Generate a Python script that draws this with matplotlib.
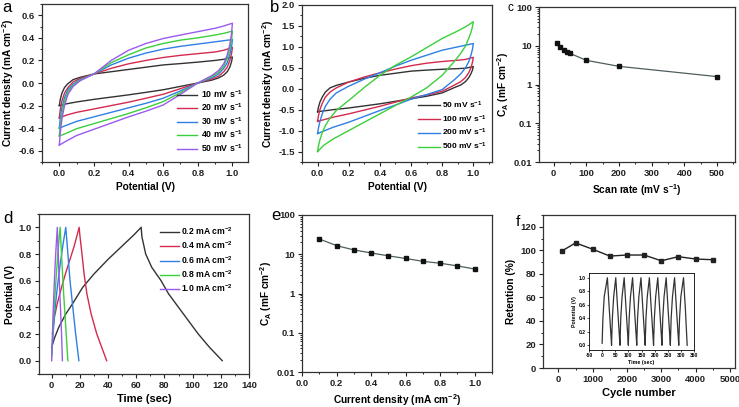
import matplotlib
matplotlib.use('Agg')
import matplotlib.pyplot as plt
import numpy as np
from matplotlib.ticker import AutoMinorLocator, FixedLocator, FixedFormatter

plt.rcParams['font.family'] = ['Liberation Sans', 'DejaVu Sans']
plt.rcParams['font.weight'] = 'bold'
plt.rcParams['axes.labelweight'] = 'bold'
plt.rcParams['axes.unicode_minus'] = False
plt.rcParams['mathtext.fontset'] = 'custom'
plt.rcParams['mathtext.rm'] = 'Liberation Sans:bold'
plt.rcParams['mathtext.bf'] = 'Liberation Sans:bold'
plt.rcParams['mathtext.it'] = 'Liberation Sans:bold'
plt.rcParams['mathtext.default'] = 'rm'

colors = ['#333333', '#d42a4f', '#2f7fe6', '#3ccf3c', '#9a5af0']

# --- a / b: CV loops, forward sweep (0 -> 1 V) then reverse sweep (1 -> 0 V)
cv_up_v = [0, 0.005, 0.015, 0.03, 0.05, 0.08, 0.12, 0.2, 0.3, 0.4, 0.5, 0.6, 0.7, 0.8, 0.9, 0.95, 1.0]
cv_dn_v = [1.0, 0.995, 0.985, 0.97, 0.95, 0.92, 0.88, 0.8, 0.7, 0.6, 0.5, 0.4, 0.3, 0.2, 0.1, 0.04, 0.0]

a_labels = ['10 mV s$^{-1}$', '20 mV s$^{-1}$', '30 mV s$^{-1}$', '40 mV s$^{-1}$', '50 mV s$^{-1}$']
a_up = [
    [-0.2, -0.15, -0.09, -0.04, -0.005, 0.03, 0.05, 0.08, 0.1, 0.12, 0.14, 0.16, 0.172, 0.185, 0.2, 0.21, 0.23],
    [-0.31, -0.24, -0.16, -0.09, -0.04, 0.01, 0.04, 0.08, 0.13, 0.17, 0.2, 0.226, 0.245, 0.26, 0.275, 0.29, 0.315],
    [-0.4, -0.32, -0.22, -0.13, -0.06, -0.01, 0.03, 0.08, 0.16, 0.22, 0.265, 0.30, 0.325, 0.345, 0.365, 0.375, 0.385],
    [-0.47, -0.38, -0.27, -0.16, -0.08, -0.02, 0.025, 0.08, 0.18, 0.25, 0.31, 0.35, 0.38, 0.40, 0.425, 0.44, 0.46],
    [-0.55, -0.45, -0.32, -0.2, -0.1, -0.03, 0.02, 0.08, 0.2, 0.29, 0.35, 0.394, 0.425, 0.455, 0.485, 0.505, 0.53],
]
a_dn = [
    [0.23, 0.19, 0.14, 0.1, 0.07, 0.045, 0.025, 0.0, -0.03, -0.06, -0.083, -0.105, -0.125, -0.145, -0.168, -0.185, -0.2],
    [0.315, 0.26, 0.2, 0.14, 0.1, 0.06, 0.035, 0.0, -0.05, -0.1, -0.135, -0.17, -0.2, -0.23, -0.26, -0.285, -0.31],
    [0.385, 0.32, 0.25, 0.18, 0.13, 0.08, 0.045, 0.0, -0.07, -0.135, -0.18, -0.22, -0.26, -0.3, -0.34, -0.375, -0.4],
    [0.46, 0.38, 0.3, 0.22, 0.15, 0.095, 0.055, 0.0, -0.085, -0.165, -0.22, -0.27, -0.315, -0.36, -0.405, -0.445, -0.47],
    [0.53, 0.44, 0.34, 0.25, 0.17, 0.11, 0.065, 0.0, -0.1, -0.195, -0.25, -0.3, -0.355, -0.41, -0.465, -0.515, -0.55],
]

b_labels = ['50 mV s$^{-1}$', '100 mV s$^{-1}$', '200 mV s$^{-1}$', '500 mV s$^{-1}$']
b_up = [
    [-0.55, -0.45, -0.32, -0.2, -0.08, 0.02, 0.08, 0.16, 0.25, 0.32, 0.37, 0.42, 0.445, 0.465, 0.48, 0.49, 0.53],
    [-0.78, -0.66, -0.5, -0.35, -0.2, -0.08, 0.02, 0.16, 0.28, 0.38, 0.47, 0.55, 0.61, 0.65, 0.68, 0.7, 0.75],
    [-1.07, -0.95, -0.78, -0.6, -0.42, -0.25, -0.1, 0.06, 0.23, 0.38, 0.54, 0.68, 0.8, 0.92, 1.0, 1.04, 1.08],
    [-1.5, -1.38, -1.22, -1.05, -0.88, -0.7, -0.52, -0.28, 0.03, 0.32, 0.56, 0.76, 0.98, 1.2, 1.38, 1.48, 1.6],
]
b_dn = [
    [0.53, 0.45, 0.36, 0.26, 0.17, 0.09, 0.03, -0.1, -0.18, -0.24, -0.3, -0.36, -0.41, -0.46, -0.5, -0.53, -0.55],
    [0.75, 0.64, 0.5, 0.38, 0.27, 0.17, 0.09, -0.06, -0.15, -0.22, -0.32, -0.42, -0.51, -0.6, -0.68, -0.74, -0.78],
    [1.08, 0.95, 0.8, 0.64, 0.5, 0.36, 0.22, -0.02, -0.14, -0.25, -0.39, -0.52, -0.66, -0.8, -0.92, -1.01, -1.07],
    [1.6, 1.48, 1.35, 1.2, 1.02, 0.85, 0.66, 0.32, 0.02, -0.2, -0.4, -0.6, -0.8, -1.0, -1.2, -1.35, -1.5],
]
b_colors = ['#333333', '#d42a4f', '#2f7fe6', '#3ccf3c']

# --- c: areal capacitance vs scan rate
scan_rate = [10, 20, 30, 40, 50, 100, 200, 500]
cap_scan = [11.7, 9.1, 7.7, 6.9, 6.35, 4.2, 2.94, 1.6]

# --- d: galvanostatic charge/discharge
d_labels = ['0.2 mA cm$^{-2}$', '0.4 mA cm$^{-2}$', '0.6 mA cm$^{-2}$', '0.8 mA cm$^{-2}$', '1.0 mA cm$^{-2}$']
d_t = [
    [0, 2, 5, 10, 15, 22, 30, 40, 50, 58, 63.5, 64, 66.7, 71, 77.6, 83, 90, 97, 104, 112, 121],
    [0.5, 2, 4, 7, 10, 13, 16, 19.5, 20, 21.5, 23, 25, 28, 32, 35.5, 39],
    [0, 2, 4, 6, 8, 10, 11.5, 13, 15, 17, 19.3],
    [0, 1.5, 3, 4.5, 6, 7.2, 8.5, 10, 11.5],
    [0, 1, 2, 3, 4, 5, 6, 7, 7.6],
]
d_v = [
    [0.1, 0.17, 0.25, 0.35, 0.43, 0.55, 0.65, 0.76, 0.86, 0.94, 1.0, 0.93, 0.8, 0.7, 0.6, 0.5, 0.4, 0.3, 0.2, 0.1, 0.0],
    [0.2, 0.33, 0.43, 0.55, 0.66, 0.76, 0.86, 1.0, 0.94, 0.8, 0.65, 0.5, 0.35, 0.2, 0.1, 0.0],
    [0.05, 0.35, 0.55, 0.72, 0.87, 1.0, 0.8, 0.6, 0.4, 0.2, 0.0],
    [0.03, 0.35, 0.6, 0.82, 1.0, 0.75, 0.5, 0.25, 0.0],
    [0.0, 0.35, 0.62, 0.83, 1.0, 0.7, 0.45, 0.2, 0.0],
]

# --- e: areal capacitance vs current density
cur_density = [0.1, 0.2, 0.3, 0.4, 0.5, 0.6, 0.7, 0.8, 0.9, 1.0]
cap_cur = [24.5, 16.6, 12.9, 10.8, 9.1, 7.8, 6.6, 5.9, 5.05, 4.2]

# --- f: cycling retention + inset GCD cycles
cycles = [100, 500, 1000, 1500, 2000, 2500, 3000, 3500, 4000, 4500]
retention = [99.4, 106.3, 100.9, 95.1, 96, 96, 91.1, 94.6, 92.6, 92]
inset_start = [0, 36, 68, 100, 132, 164, 196, 228, 260, 292]
inset_peak = [20, 52, 84, 116, 148, 180, 212, 244, 276, 310]
inset_end = [36, 68, 100, 132, 164, 196, 228, 260, 292, 324]
# shape of one charge step (seconds after start, volts) and discharge mid point
charge_dt = [0, 3, 8]
charge_v = [0.03, 0.4, 0.72]
discharge_dt = [7]
discharge_v = [0.55]

fig = plt.figure(figsize=(7.39, 4.07), dpi=100)


def add_box(l, t, r, b):
    return fig.add_axes([l / 739, 1 - b / 407, (r - l) / 739, (b - t) / 407])


def style(ax, fs=6.8, minor=True):
    for s in ax.spines.values():
        s.set_linewidth(0.9)
        s.set_color('#333333')
    ax.tick_params(direction='out', length=3, width=0.8, labelsize=fs, pad=2, colors='#222222')
    ax.tick_params(which='minor', direction='out', length=1.6, width=0.6)
    if minor:
        ax.xaxis.set_minor_locator(AutoMinorLocator(2))
        ax.yaxis.set_minor_locator(AutoMinorLocator(2))


def log_axis(ax):
    ax.set_yscale('log')
    ax.set_ylim(0.01, 100)
    ax.yaxis.set_major_locator(FixedLocator([0.01, 0.1, 1, 10, 100]))
    ax.yaxis.set_major_formatter(FixedFormatter(['0.01', '0.1', '1', '10', '100']))


lab = 7.3

# a
ax = add_box(42, 4, 248, 162)
for i in range(5):
    ax.plot(cv_up_v + cv_dn_v, a_up[i] + a_dn[i], color=colors[i], lw=1.0, label=a_labels[i])
ax.set_xlim(-0.1, 1.09)
ax.set_ylim(-0.7, 0.7)
ax.set_xticks(np.arange(0, 1.01, 0.2))
ax.set_yticks(np.arange(-0.6, 0.61, 0.2))
ax.set_xlabel('Potential (V)', fontsize=lab, labelpad=3)
ax.set_ylabel('Current density (mA cm$^{-2}$)', fontsize=lab, labelpad=2)
style(ax)
ax.legend(loc='lower right', bbox_to_anchor=(1.0, 0.02), frameon=False, fontsize=6.3,
          handlelength=2.3, labelspacing=0.2, handletextpad=0.4, borderaxespad=0.2)

# b
ax = add_box(302, 5, 492, 162)
for i in range(4):
    ax.plot(cv_up_v + cv_dn_v, b_up[i] + b_dn[i], color=b_colors[i], lw=1.0, label=b_labels[i])
ax.set_xlim(-0.1, 1.12)
ax.set_ylim(-1.75, 2.0)
ax.set_xticks(np.arange(0, 1.01, 0.2))
ax.set_yticks(np.arange(-1.5, 2.01, 0.5))
ax.set_xlabel('Potential (V)', fontsize=lab, labelpad=3)
ax.set_ylabel('Current density (mA cm$^{-2}$)', fontsize=lab, labelpad=2)
style(ax)
ax.legend(loc='lower right', bbox_to_anchor=(1.0, 0.03), frameon=False, fontsize=6.0,
          handlelength=2.6, labelspacing=0.3, handletextpad=0.3, borderaxespad=0.2)

# c
ax = add_box(539, 7, 735, 162)
ax.plot(scan_rate, cap_scan, color='#4d5e5e', lw=0.9, marker='s', ms=3.0, mfc='#111111', mec='#111111')
ax.set_xlim(-45, 555)
log_axis(ax)
ax.set_xticks(np.arange(0, 501, 100))
ax.set_xlabel('Scan rate (mV s$^{-1}$)', fontsize=lab, labelpad=3)
ax.set_ylabel('C$_A$ (mF cm$^{-2}$)', fontsize=lab, labelpad=2)
style(ax, minor=False)
ax.xaxis.set_minor_locator(AutoMinorLocator(2))

# d
ax = add_box(39, 214, 249, 374)
for i in range(5):
    ax.plot(d_t[i], d_v[i], color=colors[i], lw=1.0, label=d_labels[i])
ax.set_xlim(-9, 140)
ax.set_ylim(-0.1, 1.1)
ax.set_xticks(np.arange(0, 141, 20))
ax.set_yticks(np.arange(0, 1.01, 0.2))
ax.set_xlabel('Time (sec)', fontsize=8, labelpad=3)
ax.set_ylabel('Potential (V)', fontsize=lab, labelpad=3)
style(ax)
ax.legend(loc='upper right', bbox_to_anchor=(0.96, 0.98), frameon=False, fontsize=6.2,
          handlelength=2.3, labelspacing=0.32, handletextpad=0.2)

# e
ax = add_box(302, 215, 492, 372)
ax.plot(cur_density, cap_cur, color='#4d5e5e', lw=0.9, marker='s', ms=3.0, mfc='#111111', mec='#111111')
ax.set_xlim(0, 1.1)
log_axis(ax)
ax.set_xticks(np.arange(0, 1.01, 0.2))
ax.set_xlabel('Current density (mA cm$^{-2}$)', fontsize=lab, labelpad=3)
ax.set_ylabel('C$_A$ (mF cm$^{-2}$)', fontsize=lab, labelpad=2)
style(ax, minor=False)
ax.xaxis.set_minor_locator(AutoMinorLocator(2))

# f
ax = add_box(543, 215, 735, 368)
ax.plot(cycles, retention, color='#222222', lw=1.0, marker='s', ms=3.0)
ax.set_xlim(-450, 5150)
ax.set_ylim(0, 130)
ax.set_xticks(np.arange(0, 5001, 1000))
ax.set_yticks(np.arange(0, 121, 20))
ax.set_xlabel('Cycle number', fontsize=8, labelpad=3)
ax.set_ylabel('Retention (%)', fontsize=lab, labelpad=3)
style(ax)

# inset
ins = add_box(589, 273, 694, 350)
t_all, v_all = [], []
for s, p, e in zip(inset_start, inset_peak, inset_end):
    t_all += [s + d for d in charge_dt] + [p] + [p + d for d in discharge_dt] + [e]
    v_all += charge_v + [1.0] + discharge_v + [0.0]
ins.plot(t_all, v_all, color='#333333', lw=0.9)
ins.set_xlim(-50, 350)
ins.set_ylim(-0.07, 1.07)
ins.set_xticks(np.arange(-50, 351, 50))
ins.set_yticks(np.arange(0, 1.01, 0.2))
ins.set_xlabel('Time (sec)', fontsize=3.8, labelpad=1)
ins.set_ylabel('Potential (V)', fontsize=3.8, labelpad=1)
for s in ins.spines.values():
    s.set_linewidth(0.6)
ins.tick_params(direction='out', length=1.5, width=0.5, labelsize=3.6, pad=1)

# panel letters
for letter, x, y, fs in [('a', 7, 7, 12), ('b', 275, 7, 12), ('c', 510, 8, 8.5),
                         ('d', 8, 219, 12), ('e', 276, 216, 12), ('f', 518, 222, 11)]:
    fig.text(x / 739, 1 - y / 407, letter, fontsize=fs, fontweight='normal', ha='center', va='center')

fig.savefig('out.png', dpi=100)
